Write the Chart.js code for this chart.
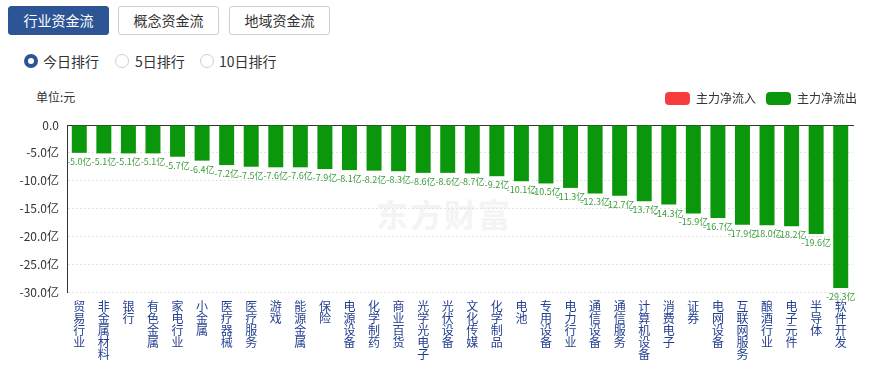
<!DOCTYPE html>
<html><head><meta charset="utf-8">
<script src="https://cdn.jsdelivr.net/npm/chart.js@4/dist/chart.umd.min.js"></script>
<style>
body{margin:0;width:870px;height:369px;overflow:hidden;background:#fff;font-family:"Noto Sans CJK SC","Noto Sans",sans-serif;position:relative;}
.btn{position:absolute;top:6px;height:27px;width:99px;border:1px solid #c9d1dc;border-radius:3px;font-size:14px;color:#333;text-align:center;line-height:27px;background:#fff;}
.btn.on{background:#2d5596;border-color:#2d5596;color:#fff;}
.radio{position:absolute;top:54px;width:12px;height:12px;border:1px solid #cfcfcf;border-radius:50%;background:#fff;}
.radio.on{width:6px;height:6px;border:4px solid #2d5596;}
.rt{position:absolute;top:51px;font-size:14px;color:#333;line-height:20px;}
#unit{position:absolute;left:36px;top:89px;font-size:12px;color:#333;line-height:16px;}
#wm{position:absolute;left:376px;top:190px;font-size:32px;font-weight:bold;color:#f4f4f4;letter-spacing:2px;}
#wrap{position:absolute;left:0;top:82px;width:870px;height:287px;}
</style></head><body>
<div class="btn on" style="left:8px">行业资金流</div>
<div class="btn" style="left:118px">概念资金流</div>
<div class="btn" style="left:229px">地域资金流</div>
<div class="radio on" style="left:24px"></div><div class="rt" style="left:43px">今日排行</div>
<div class="radio" style="left:115px"></div><div class="rt" style="left:135px">5日排行</div>
<div class="radio" style="left:200px"></div><div class="rt" style="left:219px">10日排行</div>
<div id="wm">东方财富</div>
<div id="unit">单位:元</div>
<div id="wrap"><canvas id="c" width="870" height="287"></canvas></div>
<script>
const categories = ["贸易行业","非金属材料","银行","有色金属","家电行业","小金属","医疗器械","医疗服务","游戏","能源金属","保险","电源设备","化学制药","商业百货","光学光电子","光伏设备","文化传媒","化学制品","电池","专用设备","电力行业","通信设备","通信服务","计算机设备","消费电子","证券","电网设备","互联网服务","酿酒行业","电子元件","半导体","软件开发"];
const outflow = [-5.0,-5.1,-5.1,-5.1,-5.7,-6.4,-7.2,-7.5,-7.6,-7.6,-7.9,-8.1,-8.2,-8.3,-8.6,-8.6,-8.7,-9.2,-10.1,-10.5,-11.3,-12.3,-12.7,-13.7,-14.3,-15.9,-16.7,-17.9,-18.0,-18.2,-19.6,-29.3];
const inflow = categories.map(() => null);
const yTicks = [0,-5,-10,-15,-20,-25,-30];
const seriesNames = ["主力净流入","主力净流出"];

const FONT = '"Noto Sans CJK SC","Noto Sans",sans-serif';
const labelPlugin = {
  id: 'barLabels',
  afterLayout(chart) {
    if (chart.legend) { chart.legend.left += 14; chart.legend.right += 14; }
  },
  afterDatasetsDraw(chart) {
    const ctx = chart.ctx;
    const meta = chart.getDatasetMeta(1);
    ctx.save();
    ctx.font = '9px ' + FONT;
    ctx.fillStyle = '#3a9c3a';
    ctx.textAlign = 'center';
    ctx.textBaseline = 'top';
    meta.data.forEach((el, i) => {
      const v = chart.data.datasets[1].data[i];
      ctx.fillText(v.toFixed(1) + '亿', el.x, el.y + 4);
    });
    ctx.restore();
  }
};

new Chart(document.getElementById('c'), {
  type: 'bar',
  data: {
    labels: categories.map(s => s.split('')),
    datasets: [
      {label: seriesNames[0], data: inflow, backgroundColor: '#f53d3d', xAxisID: 'x', barPercentage: 0.61, categoryPercentage: 1},
      {label: seriesNames[1], data: outflow, backgroundColor: '#0b970b', xAxisID: 'x', barPercentage: 0.61, categoryPercentage: 1}
    ]
  },
  options: {
    responsive: false,
    animation: false,
    layout: {padding: {left: 0, right: 17, top: 0, bottom: 0}},
    plugins: {
      legend: {
        position: 'top', align: 'end',
        labels: {boxWidth: 25, boxHeight: 13, padding: 10, useBorderRadius: true, borderRadius: 4,
                 color: '#333', font: {size: 12, family: FONT}}
      },
      tooltip: {enabled: false}
    },
    scales: {
      x: {
        stacked: true, position: 'bottom',
        grid: {display: false, drawTicks: false},
        border: {display: false},
        ticks: {autoSkip: false, maxRotation: 0, minRotation: 0, padding: 8, color: '#233f8f',
                font: {size: 12, family: FONT, lineHeight: 1.0}},
        afterFit(s) { s.height = 77; }
      },
      x2: {
        type: 'category', position: 'top', labels: categories,
        grid: {display: false, drawTicks: false},
        border: {display: true, color: '#333', width: 1},
        ticks: {display: false},
        afterFit(s) { s.height = 10; }
      },
      y: {
        stacked: true, min: -30, max: 0,
        afterBuildTicks(s) { s.ticks = yTicks.map(v => ({value: v})); },
        grid: {drawTicks: false, color: c => c.tick && c.tick.value === 0 ? 'rgba(0,0,0,0)' : '#e3e3e3', lineWidth: 1},
        border: {display: true, color: '#333', width: 1, dash: [2, 2]},
        ticks: {padding: 8, color: '#333', font: {size: 12, family: FONT},
                callback: v => v === 0 ? '0.0' : v.toFixed(1) + '亿'},
        afterFit(s) { s.width = 67; }
      }
    }
  },
  plugins: [labelPlugin]
});
</script>
</body></html>
